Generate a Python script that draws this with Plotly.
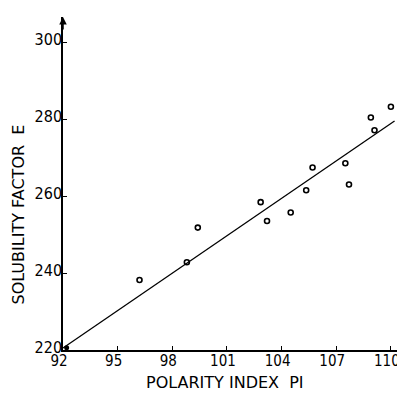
import plotly.graph_objects as go

polarity_index = [96.2, 98.8, 99.4, 102.85, 103.2, 104.5, 105.35, 105.7, 107.5, 107.7, 108.9, 109.1, 110.0]
solubility_factor = [238.2, 242.8, 251.8, 258.4, 253.5, 255.7, 261.5, 267.4, 268.5, 263.0, 280.4, 277.1, 283.2]
origin_point_x = [92.2]
origin_point_y = [220.6]
fit_x = [92.0, 110.2]
fit_y = [220.5, 279.5]
x_ticks = [92, 95, 98, 101, 104, 107, 110]
y_ticks = [220, 240, 260, 280, 300]

font_fam = "DejaVu Sans Condensed, Liberation Sans Narrow, sans-serif"
title_fam = "DejaVu Sans, sans-serif"

fig = go.Figure()
fig.add_trace(go.Scatter(x=fit_x, y=fit_y, mode="lines",
                         line=dict(color="black", width=1.3), showlegend=False, cliponaxis=False))
fig.add_trace(go.Scatter(x=polarity_index, y=solubility_factor, mode="markers",
                         marker=dict(symbol="circle-open", size=5, color="black",
                                     line=dict(width=1.6, color="black")),
                         showlegend=False, cliponaxis=False))
fig.add_trace(go.Scatter(x=origin_point_x, y=origin_point_y, mode="markers",
                         marker=dict(symbol="circle", size=5, color="black"),
                         showlegend=False, cliponaxis=False))

fig.add_annotation(x=92, y=306.5, xref="x", yref="y", ax=0, ay=14,
                   showarrow=True, arrowhead=2, arrowsize=1, arrowwidth=1.5,
                   arrowcolor="black", text="")

# page has an 8px body margin; figure coordinates are offset accordingly
fig.add_annotation(text="POLARITY INDEX  PI", xref="paper", yref="paper",
                   x=0.48, y=0, yshift=-32, yanchor="middle", xanchor="center", showarrow=False,
                   font=dict(size=16, family=title_fam))
fig.add_annotation(text="SOLUBILITY FACTOR  E", xref="paper", yref="paper",
                   x=0, xshift=-45, y=0.5, yshift=-31, yanchor="middle", xanchor="center", textangle=-90,
                   showarrow=False, font=dict(size=16, family=title_fam))

fig.update_layout(
    width=397, height=393,
    margin=dict(l=55, r=5, t=9, b=51, autoexpand=False),
    plot_bgcolor="white", paper_bgcolor="white",
    font=dict(family=font_fam, color="black", size=16),
    xaxis=dict(range=[92, 110.5], tickvals=x_ticks, ticktext=[str(v) for v in x_ticks],
               showgrid=False, zeroline=False, showline=True, linecolor="black", linewidth=1.5,
               ticks="inside", ticklen=4, tickcolor="black", tickwidth=1.2, automargin=False,
               ticklabeloverflow="allow", ticklabelstandoff=-4, ticklabelshift=-4,
               tickfont=dict(size=15, family=font_fam)),
    yaxis=dict(range=[220, 306.5], tickvals=y_ticks, ticktext=[str(v) for v in y_ticks],
               showgrid=False, zeroline=False, showline=True, linecolor="black", linewidth=1.5,
               ticks="inside", ticklen=4, tickcolor="black", tickwidth=1.2, automargin=False,
               ticklabeloverflow="allow", ticklabelstandoff=-4, ticklabelshift=-3,
               tickfont=dict(size=16, family=font_fam)),
)

fig.write_html("out.html")
